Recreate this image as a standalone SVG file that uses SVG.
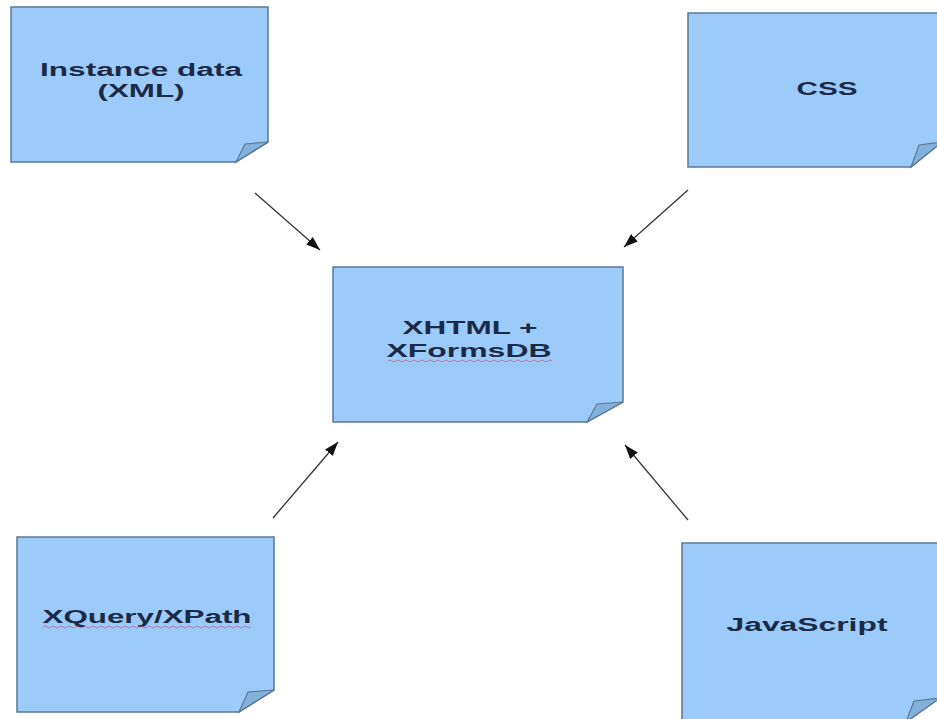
<svg xmlns="http://www.w3.org/2000/svg" width="937" height="719" viewBox="0 0 937 719">
<defs>
<marker id="ah" viewBox="0 0 14 10" refX="14" refY="5" markerWidth="14" markerHeight="10" markerUnits="userSpaceOnUse" orient="auto">
<path d="M0,0 L14,5 L0,10 Z" fill="#111"/>
</marker>
</defs>
<style>
.page{fill:#9dcbf9;stroke:#5b7894;stroke-width:1.5}
.fold{fill:#84b0dc;stroke:#5b7894;stroke-width:1.2}
.lbl{font-family:"Liberation Sans",Arial,sans-serif;font-weight:bold;font-size:18px;fill:#1b2a47;text-anchor:middle}
.wavy{fill:none;stroke:#c0506a;stroke-width:0.9;opacity:0.7}
.edge{stroke:#333;stroke-width:1.3;fill:none;marker-end:url(#ah)}
</style>
<rect width="937" height="719" fill="#fff"/>
<g id="connectors">
<line class="edge" x1="255" y1="193" x2="320" y2="250"/>
<line class="edge" x1="688" y1="190" x2="624" y2="247"/>
<line class="edge" x1="273" y1="518" x2="338" y2="442"/>
<line class="edge" x1="688" y1="520" x2="625" y2="445"/>
</g>
<g id="instance">
<path class="page" d="M11,7 H268 V142 L236,162 H11 Z"/>
<path class="fold" d="M236,162 L268,142 L245,144 Z"/>
<text class="lbl" x="141" y="76" textLength="202" lengthAdjust="spacingAndGlyphs">Instance data</text>
<text class="lbl" x="141" y="97" textLength="87" lengthAdjust="spacingAndGlyphs">(XML)</text>
</g>
<g id="css">
<path class="page" d="M688,13 H942 V142 L911,167 H688 Z"/>
<path class="fold" d="M911,167 L942,142 L919,145 Z"/>
<text class="lbl" x="827" y="95" textLength="61" lengthAdjust="spacingAndGlyphs">CSS</text>
</g>
<g id="xhtml">
<path class="page" d="M333,267 H623 V402 L587,422 H333 Z"/>
<path class="fold" d="M587,422 L623,402 L597,404 Z"/>
<text class="lbl" x="470" y="334" textLength="135" lengthAdjust="spacingAndGlyphs">XHTML +</text>
<text class="lbl" x="469" y="357" textLength="165" lengthAdjust="spacingAndGlyphs">XFormsDB</text>
<path class="wavy" d="M388,361 q2,-2 4,0 t4,0 t4,0 t4,0 t4,0 t4,0 t4,0 t4,0 t4,0 t4,0 t4,0 t4,0 t4,0 t4,0 t4,0 t4,0 t4,0 t4,0 t4,0 t4,0 t4,0 t4,0 t4,0 t4,0 t4,0 t4,0 t4,0 t4,0 t4,0 t4,0 t4,0 t4,0 t4,0 t4,0 t4,0 t4,0 t4,0 t4,0 t4,0 t4,0 t4,0"/>
</g>
<g id="xquery">
<path class="page" d="M17,537 H274 V690 L239,712 H17 Z"/>
<path class="fold" d="M239,712 L274,690 L248,692 Z"/>
<text class="lbl" x="147" y="623" textLength="209" lengthAdjust="spacingAndGlyphs">XQuery/XPath</text>
<path class="wavy" d="M43,627 q2,-2 4,0 t4,0 t4,0 t4,0 t4,0 t4,0 t4,0 t4,0 t4,0 t4,0 t4,0 t4,0 t4,0 t4,0 t4,0 t4,0 t4,0 t4,0 t4,0 t4,0 t4,0 t4,0 t4,0 t4,0 t4,0 t4,0 t4,0 t4,0 t4,0 t4,0 t4,0 t4,0 t4,0 t4,0 t4,0 t4,0 t4,0 t4,0 t4,0 t4,0 t4,0 t4,0 t4,0 t4,0 t4,0 t4,0 t4,0 t4,0 t4,0 t4,0 t4,0 t4,0"/>
</g>
<g id="javascript">
<path class="page" d="M682,543 H940 V698 L906,722 H682 Z"/>
<path class="fold" d="M906,722 L940,698 L914,701 Z"/>
<text class="lbl" x="807" y="631" textLength="161" lengthAdjust="spacingAndGlyphs">JavaScript</text>
</g>
</svg>
